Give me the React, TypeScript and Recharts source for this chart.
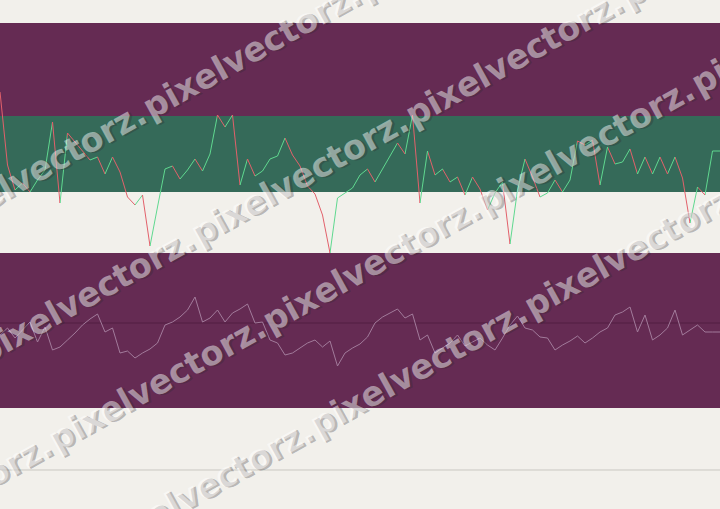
import React from "react";
import { LineChart, Line, XAxis, YAxis, ReferenceArea, ReferenceLine } from "recharts";

// Upper oscillator (0 = bottom of panel, 230 = top of panel)
const upperValues: number[] = [
  161, 88, 63, 70, 61, 73, 83, 131, 50, 120, 111, 102, 93, 96, 79, 96, 81, 56, 48, 58,
  7, 46, 84, 87, 74, 83, 94, 82, 99, 138, 126, 138, 68, 94, 77, 82, 94, 97, 115, 98,
  87, 67, 59, 38, 0, 55, 60, 65, 78, 84, 71, 84, 97, 110, 99, 138, 50, 102, 78, 84,
  71, 76, 58, 76, 64, 43, 60, 71, 9, 63, 94, 76, 56, 60, 73, 61, 73, 112, 108, 113,
  68, 106, 89, 91, 104, 79, 96, 79, 96, 79, 96, 75, 30, 66, 58, 102, 102,
];

// Lower oscillator (0 = mid line)
const lowerValues: number[] = [
  -12, -5, -15, -7, 1, -19, -4, -27, -24, -17, -10, -2, 4, 9, -9, -5, -30, -28, -35, -30,
  -26, -20, -2, 1, 6, 13, 26, 1, 5, 13, 1, 10, 14, 19, 0, 1, -17, -20, -32, -30,
  -25, -20, -17, -24, -18, -43, -30, -25, -21, -14, 0, 6, 10, 14, 5, 9, -17, -12, -30, -25,
  -20, -12, -23, -19, -15, -22, -27, -15, -2, 7, -5, -7, -14, -15, -27, -22, -18, -13, -20, -15,
  -9, -5, 8, 11, 16, -9, 8, -17, -12, -5, 13, -12, -7, -2, -9, -9, -9,
];

const periods: number[] = upperValues.map((_, i) => i);

// watermark rows: [y where the row crosses x=0, along-row start of a word]
const watermarkText = "pixelvectorz.";
const watermarkRows: [number, number][] = [
  [190, -79],
  [343, -24],
  [470, 58],
  [600, 112],
];

const upperZoneHigh = 137;
const upperZoneLow = 61;
const upperMax = 230;
const lowerBandTop = 70;
const lowerBandBottom = -85;
const lowerMin = -147;

const BG = "#f2f0eb";
const PURPLE = "#652b53";
const GREEN_ZONE = "#356a59";
const UP = "#5fd88f";
const DOWN = "#e2606a";

const upperData = periods.map((i) => ({ i, v: upperValues[i] }));
const lowerData = periods.map((i) => ({ i, v: lowerValues[i] }));

const last = periods.length - 1;
const stops: React.ReactElement[] = [];
for (let k = 0; k < last; k++) {
  const c = upperValues[k + 1] >= upperValues[k] ? UP : DOWN;
  stops.push(<stop key={`a${k}`} offset={k / last} stopColor={c} />);
  stops.push(<stop key={`b${k}`} offset={(k + 1) / last} stopColor={c} />);
}

const WORD_LEN = 245;
const ANGLE = -29;

function Watermark() {
  const words: React.ReactElement[] = [];
  watermarkRows.forEach(([b, start], r) => {
    for (let k = -2; k < 6; k++) {
      const u = start + k * WORD_LEN;
      words.push(
        <g key={`${r}-${k}`} transform={`translate(0 ${b}) rotate(${ANGLE})`}>
          <text
            x={u + 2}
            y={14}
            fontFamily="'DejaVu Sans', Verdana, sans-serif"
            fontWeight="bold"
            fontSize={34}
            textLength={WORD_LEN - 2}
            lengthAdjust="spacingAndGlyphs"
            fill="#2e282b"
            fillOpacity={0.3}
          >
            {watermarkText}
          </text>
          <text
            x={u}
            y={12}
            fontFamily="'DejaVu Sans', Verdana, sans-serif"
            fontWeight="bold"
            fontSize={34}
            textLength={WORD_LEN - 2}
            lengthAdjust="spacingAndGlyphs"
            fill="#ffffff"
            fillOpacity={0.47}
          >
            {watermarkText}
          </text>
        </g>
      );
    }
  });
  return (
    <svg
      width={720}
      height={509}
      style={{ position: "absolute", left: 0, top: 0, pointerEvents: "none" }}
    >
      {words}
    </svg>
  );
}

export default function App() {
  return (
    <div
      style={{
        position: "absolute",
        left: 0,
        top: 0,
        width: 720,
        height: 509,
        background: BG,
        overflow: "hidden",
      }}
    >
      <div style={{ position: "absolute", left: 0, top: 0 }}>
        <LineChart width={720} height={253} data={upperData} margin={{ top: 23, right: 0, left: 0, bottom: 0 }}>
          <defs>
            <linearGradient id="dirGrad" gradientUnits="userSpaceOnUse" x1={0} y1={0} x2={720} y2={0}>
              {stops}
            </linearGradient>
          </defs>
          <XAxis type="number" dataKey="i" domain={[0, last]} hide />
          <YAxis type="number" domain={[0, upperMax]} hide />
          <ReferenceArea y1={upperZoneHigh} y2={upperMax} fill={PURPLE} fillOpacity={1} stroke="none" />
          <ReferenceArea y1={upperZoneLow} y2={upperZoneHigh} fill={GREEN_ZONE} fillOpacity={1} stroke="none" />
          <Line
            type="linear"
            dataKey="v"
            stroke="url(#dirGrad)"
            strokeWidth={1}
            dot={false}
            activeDot={false}
            isAnimationActive={false}
          />
        </LineChart>
      </div>
      <div style={{ position: "absolute", left: 0, top: 253 }}>
        <LineChart width={720} height={220} data={lowerData} margin={{ top: 0, right: 0, left: 0, bottom: 3 }}>
          <XAxis type="number" dataKey="i" domain={[0, last]} hide />
          <YAxis type="number" domain={[lowerMin, lowerBandTop]} hide />
          <ReferenceArea y1={lowerBandBottom} y2={lowerBandTop} fill={PURPLE} fillOpacity={1} stroke="none" />
          <ReferenceLine y={0} stroke="#521e42" strokeWidth={1} />
          <ReferenceLine y={lowerMin} stroke="#c9c7c1" strokeWidth={1} />
          <Line
            type="linear"
            dataKey="v"
            stroke="#a27b9b"
            strokeWidth={1}
            dot={false}
            activeDot={false}
            isAnimationActive={false}
          />
        </LineChart>
      </div>
      <Watermark />
    </div>
  );
}
